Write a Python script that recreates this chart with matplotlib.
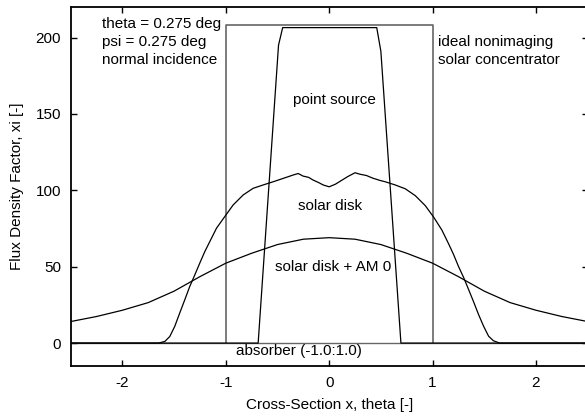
import numpy as np
import matplotlib.pyplot as plt

plt.rcParams['font.family'] = ['Liberation Sans', 'DejaVu Sans']
plt.rcParams['font.size'] = 11
plt.rcParams['axes.unicode_minus'] = False

# solar disk profile (flux density factor across the absorber)
disk_x = [-2.5, -1.65, -1.589, -1.542, -1.494, -1.446, -1.397, -1.349, -1.30, -1.252,
          -1.203, -1.155, -1.09, -1.01, -0.929, -0.833, -0.736, -0.639, -0.542,
          -0.445, -0.349, -0.30, -0.252, -0.20, -0.155, -0.10, -0.058, 0.0,
          0.06, 0.12, 0.18, 0.25, 0.30, 0.36, 0.42, 0.49, 0.542, 0.639, 0.736,
          0.833, 0.929, 1.01, 1.09, 1.155, 1.203, 1.252, 1.30, 1.349, 1.397,
          1.446, 1.494, 1.542, 1.589, 1.65, 2.5]
disk_y = [0, 0, 1.1, 4.3, 10.9, 19.6, 28.3, 37, 44.6, 52.3,
          59.9, 66.4, 75.2, 82.8, 90.4, 96.9, 101.3, 103.5, 105.6,
          107.8, 110, 111, 109.3, 108.5, 106.7, 105, 103.5, 102.3,
          104, 106.5, 109, 111.5, 110.5, 109.7, 108, 106.5, 105.6, 103.5, 101,
          96.5, 90, 82.5, 74, 65, 58, 50, 43, 35, 27,
          18.5, 11, 4.5, 1.5, 0, 0]

# solar disk + AM 0 spectrum
am0_x = [-2.5, -2.25, -2.0, -1.75, -1.5, -1.25, -1.0, -0.75, -0.5, -0.25, 0.0,
         0.25, 0.5, 0.75, 1.0, 1.25, 1.5, 1.75, 2.0, 2.25, 2.5]
am0_y = [14.1, 17.4, 21.5, 26.5, 34, 43.5, 52.3, 58.8, 64.5, 68, 69,
         68, 64.5, 58.8, 52.3, 43.5, 34, 26.5, 21.5, 17.4, 14.1]

# point source
ps_x = [-2.5, -0.687, -0.49, -0.45, 0.46, 0.50, 0.694, 2.5]
ps_y = [0, 0, 195, 206.5, 206.5, 191, 0, 0]

# ideal concentrator: 1/sin(0.275 deg) over the absorber (-1:1)
ideal_x = [-1.0, -1.0, 1.0, 1.0]
ideal_y = [0, 1 / np.sin(np.radians(0.275)), 1 / np.sin(np.radians(0.275)), 0]

fig = plt.figure(figsize=(5.85, 4.16), dpi=100)
ax = fig.add_axes([0.1209, 0.1202, 0.8836, 0.863])

ax.axhline(0, color='#666666', lw=1.0)
ax.plot(ideal_x, ideal_y, color='#666666', lw=1.2)
ax.plot(ps_x, ps_y, color='black', lw=0.9)
ax.plot(disk_x, disk_y, color='black', lw=0.9)
ax.plot(am0_x, am0_y, color='black', lw=0.9)

ax.text(-2.2, 209, 'theta = 0.275 deg', va='center', ha='left')
ax.text(-2.2, 197, 'psi = 0.275 deg', va='center', ha='left')
ax.text(-2.2, 185, 'normal incidence', va='center', ha='left')
ax.text(1.05, 197, 'ideal nonimaging', va='center', ha='left')
ax.text(1.05, 185, 'solar concentrator', va='center', ha='left')
ax.text(-0.35, 159, 'point source', va='center', ha='left')
ax.text(-0.30, 89.7, 'solar disk', va='center', ha='left')
ax.text(-0.52, 50, 'solar disk + AM 0', va='center', ha='left')
ax.text(-0.90, -5, 'absorber (-1.0:1.0)', va='center', ha='left')

ax.set_xlim(-2.5, 2.5)
ax.set_ylim(-15, 220)
ax.set_xticks([-2, -1, 0, 1, 2])
ax.set_yticks([0, 50, 100, 150, 200])
ax.tick_params(direction='in', length=4.5, width=1, top=True, right=True, pad=7)
for s in ax.spines.values():
    s.set_linewidth(1.3)

ax.set_xlabel('Cross-Section x, theta [-]', labelpad=6)
ax.set_ylabel('Flux Density Factor, xi [-]', labelpad=8)

fig.savefig('out.png', dpi=100)
